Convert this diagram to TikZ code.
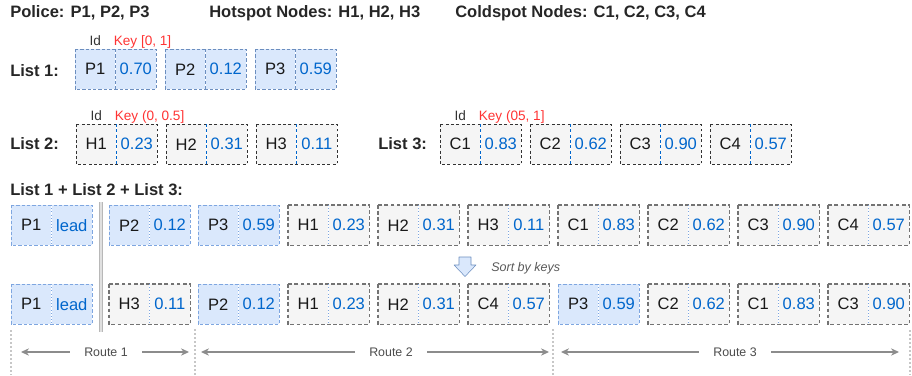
\documentclass[tikz,border=0pt]{standalone}
\usepackage{fontspec}
\setmainfont{Liberation Sans}
\usepackage{xcolor}
\usepackage{tikz}
\usetikzlibrary{positioning,arrows.meta}

\definecolor{pfillc}{HTML}{DAE8FC}
\definecolor{plinec}{HTML}{6C8EBF}
\definecolor{plightc}{HTML}{7EA6E0}
\definecolor{gfillc}{HTML}{F5F5F5}
\definecolor{keyblue}{HTML}{0066CC}
\definecolor{keyred}{HTML}{FF3333}

% one list entry: id cell + key cell
\newcommand{\kvpair}[5]{%
  \node[idcell,#1fill] (#2) at (#3) {#4};
  \node[keycell,#1fill,right=0pt of #2] (#2k) {#5};
  \draw[#1frame] (#2.north west) rectangle (#2k.south east);
  \draw[#1split] (#2.north east) -- (#2.south east);
}

\begin{document}
\begin{tikzpicture}[x=0.75pt, y=-0.75pt,
    every node/.style={font=\fontsize{12.4}{14}\selectfont, text=black!90},
    idcell/.style={minimum width=30pt, minimum height=30pt, inner sep=0pt, anchor=north west},
    keycell/.style={minimum width=30pt, minimum height=30pt, inner sep=0pt, text=keyblue},
    polfill/.style={fill=pfillc},
    polframe/.style={draw=plinec, dash pattern=on 2.5pt off 1.5pt},
    polsplit/.style={draw=plinec, dash pattern=on 2.5pt off 1.5pt},
    spotfill/.style={fill=gfillc},
    spotframe/.style={draw=black!80, dash pattern=on 2.2pt off 1.8pt},
    spotsplit/.style={draw=keyblue, dash pattern=on 2.2pt off 1.8pt},
    mpolfill/.style={fill=pfillc},
    mpolframe/.style={draw=plightc, dash pattern=on 2.5pt off 1.5pt},
    mpolsplit/.style={draw=plightc, line width=0.9pt, dash pattern=on 0.8pt off 1.6pt},
    mspotfill/.style={fill=gfillc},
    mspotframe/.style={draw=black!55, line width=0.8pt, dash pattern=on 2.8pt off 1.8pt},
    mspotsplit/.style={draw=plightc, line width=0.9pt, dash pattern=on 0.8pt off 1.6pt},
    title/.style={font=\fontsize{12.4}{14}\selectfont\bfseries, text=black!85, anchor=base west, inner sep=0pt},
    idlabel/.style={font=\fontsize{10.2}{12}\selectfont, text=black!80, anchor=base, inner sep=0pt},
    keylabel/.style={font=\fontsize{10.2}{12}\selectfont, text=keyred, anchor=base west, inner sep=0pt},
    route/.style={draw=black!45, line width=0.8pt, {Stealth[length=6pt,width=5.5pt]}-{Stealth[length=6pt,width=5.5pt]}},
    routelabel/.style={font=\fontsize{9.3}{11}\selectfont, text=black!70, fill=white, inner xsep=11pt},
    guide/.style={draw=black!22, line width=1.2pt, dash pattern=on 1.2pt off 1.8pt}]

\useasboundingbox (0,0) rectangle (912,375);

% Headers
\node[title] (hpol) at (10,17) {Police: P1, P2, P3};
\node[title] (hhot) at (209,17) {Hotspot Nodes: H1, H2, H3};
\node[title] (hcold) at (455,17) {Coldspot Nodes: C1, C2, C3, C4};

% List 1
\node[title] (list1) at (10,76) {List 1:};
\kvpair{pol}{l1p1}{75,49}{P1}{0.70}
\kvpair{pol}{l1p2}{165,49}{P2}{0.12}
\kvpair{pol}{l1p3}{255,49}{P3}{0.59}
\node[idlabel] (l1id) at ([yshift=3pt]l1p1.north) {Id};
\node[keylabel] (l1key) at ([xshift=-1.5pt,yshift=3pt]l1p1k.north west) {Key [0, 1]};

% List 2
\node[title] (list2) at (10,149) {List 2:};
\kvpair{spot}{l2h1}{76,124}{H1}{0.23}
\kvpair{spot}{l2h2}{166,124}{H2}{0.31}
\kvpair{spot}{l2h3}{256,124}{H3}{0.11}
\node[idlabel] (l2id) at ([yshift=3pt]l2h1.north) {Id};
\node[keylabel] (l2key) at ([xshift=-1.5pt,yshift=3pt]l2h1k.north west) {Key (0, 0.5]};

% List 3
\node[title] (list3) at (378,149) {List 3:};
\kvpair{spot}{l3c1}{440,124}{C1}{0.83}
\kvpair{spot}{l3c2}{530,124}{C2}{0.62}
\kvpair{spot}{l3c3}{620,124}{C3}{0.90}
\kvpair{spot}{l3c4}{710,124}{C4}{0.57}
\node[idlabel] (l3id) at ([yshift=3pt]l3c1.north) {Id};
\node[keylabel] (l3key) at ([xshift=-1.5pt,yshift=3pt]l3c1k.north west) {Key (05, 1]};

% Merged list
\node[title] (merged) at (10,195) {List 1 + List 2 + List 3:};
\kvpair{mpol}{a1}{11,205}{P1}{lead}
\kvpair{mpol}{a2}{109,205}{P2}{0.12}
\kvpair{mpol}{a3}{198,205}{P3}{0.59}
\kvpair{mspot}{a4}{288,205}{H1}{0.23}
\kvpair{mspot}{a5}{378,205}{H2}{0.31}
\kvpair{mspot}{a6}{468,205}{H3}{0.11}
\kvpair{mspot}{a7}{558,205}{C1}{0.83}
\kvpair{mspot}{a8}{648,205}{C2}{0.62}
\kvpair{mspot}{a9}{738,205}{C3}{0.90}
\kvpair{mspot}{a10}{828,205}{C4}{0.57}

% Sort arrow
\draw[draw=plinec, fill=pfillc, line join=round]
  (459,257) -- (471,257) -- (471,265) -- (476,265) -- (465,276.5) -- (454,265) -- (459,265) -- cycle;
\node[font=\fontsize{9.4}{11}\selectfont\itshape, text=black!65, anchor=base west, inner sep=0pt] (sortlbl) at (491,271) {Sort by keys};

% Sorted list
\kvpair{mpol}{b1}{11,284}{P1}{lead}
\kvpair{mspot}{b2}{109,284}{H3}{0.11}
\kvpair{mpol}{b3}{198,284}{P2}{0.12}
\kvpair{mspot}{b4}{288,284}{H1}{0.23}
\kvpair{mspot}{b5}{378,284}{H2}{0.31}
\kvpair{mspot}{b6}{468,284}{C4}{0.57}
\kvpair{mpol}{b7}{558,284}{P3}{0.59}
\kvpair{mspot}{b8}{648,284}{C2}{0.62}
\kvpair{mspot}{b9}{738,284}{C1}{0.83}
\kvpair{mspot}{b10}{828,284}{C3}{0.90}

% Lead separator
\draw[draw=black!28, double=black!12, line width=0.6pt, double distance=1.1pt] (101,202) -- (101,332);

% Routes
\draw[guide] (11,330) -- (11,375);
\draw[guide] (195,329) -- (195,375);
\draw[guide] (553,329) -- (553,375);
\draw[guide] (910,330) -- (910,375);

\coordinate (r1a) at (21,352);
\coordinate (r1b) at (189,352);
\coordinate (r2a) at (201,352);
\coordinate (r2b) at (549,352);
\coordinate (r3a) at (561,352);
\coordinate (r3b) at (899,352);
\draw[route] (r1a) -- (r1b);
\draw[route] (r2a) -- (r2b);
\draw[route] (r3a) -- (r3b);
\node[routelabel] (route1) at (106,352) {Route 1};
\node[routelabel] (route2) at (391,352) {Route 2};
\node[routelabel] (route3) at (735,352) {Route 3};

\end{tikzpicture}
\end{document}
